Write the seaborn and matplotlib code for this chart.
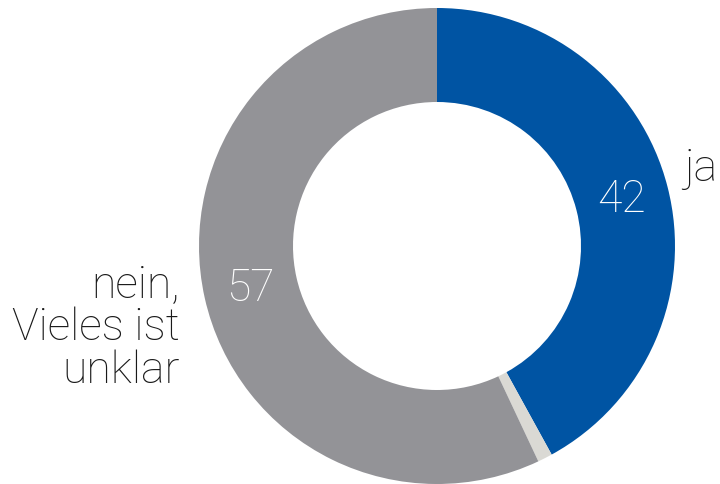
import numpy as np
import matplotlib
matplotlib.use("Agg")
import matplotlib.pyplot as plt
import seaborn as sns

categories = ["ja", "keine Angabe", "nein,\nVieles ist\nunklar"]
values = [42, 1, 57]
value_labels = ["42", "", "57"]
colors = ["#0054A3", "#DAD9D4", "#939397"]

sns.set_theme(style="white")
plt.rcParams['font.family'] = ['Roboto', 'DejaVu Sans']

W, H = 720, 485
fig = plt.figure(figsize=(W / 100, H / 100), dpi=100)
ax = fig.add_axes([0, 0, 1, 1])

cx, cy = 437, H - 247
R, r_in = 238, 144
wedges, _ = ax.pie(values, colors=colors, startangle=90, counterclock=False,
                   center=(cx, cy), radius=R, frame=True,
                   wedgeprops=dict(width=R - r_in, linewidth=0))
ax.set_xlim(0, W)
ax.set_ylim(0, H)
ax.set_aspect("equal")
ax.axis("off")

# value labels at mid-ring
cum = np.cumsum([0] + values)
total = sum(values)
rm = (R + r_in) / 2
for i, lab in enumerate(value_labels):
    if not lab:
        continue
    mid = (cum[i] + cum[i + 1]) / 2 / total * 2 * np.pi
    x = cx + rm * np.sin(mid)
    y = cy + rm * np.cos(mid)
    ax.text(x, y, lab, ha="center", va="center", color="white",
            fontsize=32, fontweight="light")

ax.text(684, H - 169, categories[0], ha="left", va="center", color="#1a1a1a",
        fontsize=32, fontweight="light")
ax.text(180, H - 328, categories[2], ha="right", va="center", color="#1a1a1a",
        fontsize=32, fontweight="light", linespacing=1.0, multialignment="right")

fig.savefig("out.png", dpi=100)
